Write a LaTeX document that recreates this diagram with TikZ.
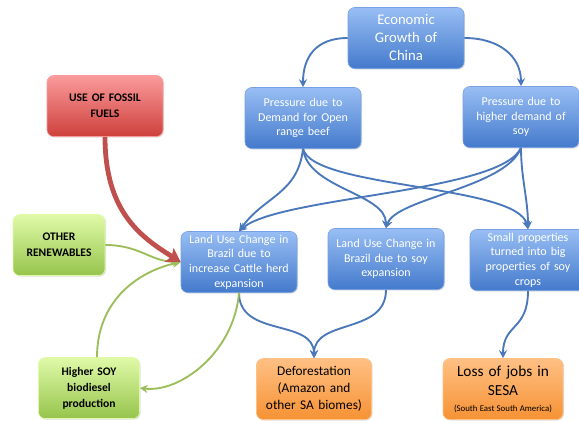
\documentclass[tikz,border=0pt]{standalone}
\usepackage{fontspec}
\setmainfont{Carlito}
\usetikzlibrary{arrows.meta, shadows}

\definecolor{bluetop}{RGB}{152,190,244}
\definecolor{bluebot}{RGB}{68,122,204}
\definecolor{blueline}{RGB}{120,160,225}
\definecolor{redtop}{RGB}{250,155,155}
\definecolor{redbot}{RGB}{206,64,60}
\definecolor{greentop}{RGB}{224,250,168}
\definecolor{greenbot}{RGB}{150,196,76}
\definecolor{orangetop}{RGB}{255,192,132}
\definecolor{orangebot}{RGB}{246,146,52}
\definecolor{edgeblue}{RGB}{74,120,186}
\definecolor{edgegreen}{RGB}{155,190,90}
\definecolor{edgered}{RGB}{192,80,77}

\tikzset{
  box/.style={rounded corners=5pt, align=center, inner sep=2pt, line width=0.4pt,
    minimum height=45.75pt, drop shadow={opacity=0.25, shadow xshift=0.8pt, shadow yshift=-0.8pt}},
  bluebox/.style={box, top color=bluetop, bottom color=bluebot, draw=blueline, text=white,
    font=\fontsize{9}{11}\selectfont, minimum width=87pt, text width=80pt},
  redbox/.style={box, top color=redtop, bottom color=redbot, draw=redtop,
    font=\fontsize{8.7}{12}\selectfont\bfseries, minimum width=87pt, text width=80pt},
  greenbox/.style={box, top color=greentop, bottom color=greenbot, draw=greentop,
    font=\fontsize{8.7}{12}\selectfont\bfseries},
  orangebox/.style={box, top color=orangetop, bottom color=orangebot, draw=orangetop,
    font=\fontsize{10}{12.75}\selectfont},
  bluearrow/.style={draw=edgeblue, line width=1.4pt, -{Stealth[length=6pt,width=6pt]}},
  greenarrow/.style={draw=edgegreen, line width=1.4pt, -{Stealth[length=6pt,width=6pt]}},
  redarrow/.style={draw=edgered, line width=3.6pt, -{Stealth[length=10pt,width=12pt,inset=2pt]}}
}

\begin{document}
\begin{tikzpicture}[x=0.75pt,y=0.75pt,yscale=-1,xscale=1]
\useasboundingbox (0,0) rectangle (579,421);

% Text Node
\node [bluebox, font=\fontsize{11}{13.5}\selectfont] (econ) at (406,38) {Economic\\Growth of\\China};
% Text Node
\node [bluebox] (beef) at (303,118) {Pressure due to\\Demand for Open\\range beef};
% Text Node
\node [bluebox] (soyp) at (521,117) {Pressure due to\\higher demand of\\soy};
% Text Node
\node [redbox] (fossil) at (105,106) {USE OF FOSSIL\\FUELS};
% Text Node
\node [greenbox, minimum width=69pt, text width=64pt] (renew) at (59,245) {OTHER\\RENEWABLES};
% Text Node
\node [bluebox] (cattle) at (239,262) {Land Use Change in\\Brazil due to\\increase Cattle herd\\expansion};
% Text Node
\node [bluebox] (soylu) at (386,259) {Land Use Change in\\Brazil due to soy\\expansion};
% Text Node
\node [bluebox] (small) at (528,260) {Small properties\\turned into big\\properties of soy\\crops};
% Text Node
\node [greenbox, minimum width=75.75pt, text width=70pt] (bio) at (89,388) {Higher SOY\\biodiesel\\production};
% Text Node
\node [orangebox, minimum width=86.25pt, text width=82pt] (defor) at (314,389) {Deforestation\\(Amazon and\\other SA biomes)};
% Text Node
\node [orangebox, minimum width=90pt, text width=86pt, font=\fontsize{11.5}{14}\selectfont] (loss) at (503,389)
  {Loss of jobs in\\SESA\\[-2pt]{\fontsize{6.6}{7.5}\selectfont\spaceskip=0pt (South East South America)}};

%Curve Lines
\draw [bluearrow] (econ.west) .. controls +(-32,0) and +(0,-30) .. (beef.north);
\draw [bluearrow] (econ.east) .. controls +(35,0) and +(0,-30) .. (soyp.north);
%Curve Lines
\draw [bluearrow] (beef.south) .. controls +(-5,45) and +(25,-35) .. (cattle.north);
\draw [bluearrow] (beef.south) .. controls +(5,40) and +(0,-35) .. (soylu.north);
\draw [bluearrow] (beef.south) .. controls +(10,40) and +(-10,-45) .. (small.north);
\draw [bluearrow] (soyp.south) .. controls +(-20,45) and +(40,-35) .. (cattle.north);
\draw [bluearrow] (soyp.south) .. controls +(-15,40) and +(10,-30) .. (soylu.north);
\draw [bluearrow] (soyp.south) .. controls +(0,30) and +(0,-30) .. (small.north);
%Curve Lines
\draw [bluearrow] (cattle.south) .. controls +(0,45) and +(0,-40) .. (defor.north);
\draw [bluearrow] (soylu.south) .. controls +(0,45) and +(0,-40) .. (defor.north);
\draw [bluearrow] (small.south) .. controls +(0,40) and +(0,-35) .. (loss.north);
%Curve Lines
\draw [greenarrow] (cattle.south) .. controls +(-5,60) and +(40,5) .. (bio.east);
\draw [greenarrow] ([xshift=6pt]bio.north) .. controls +(0,-55) and +(-45,10) .. (cattle.west);
\draw [greenarrow] (renew.east) .. controls +(35,0) and +(-30,0) .. (cattle.west);
\draw [redarrow] (fossil.south) .. controls +(0,75) and +(-40,-25) .. (cattle.west);

\end{tikzpicture}
\end{document}
